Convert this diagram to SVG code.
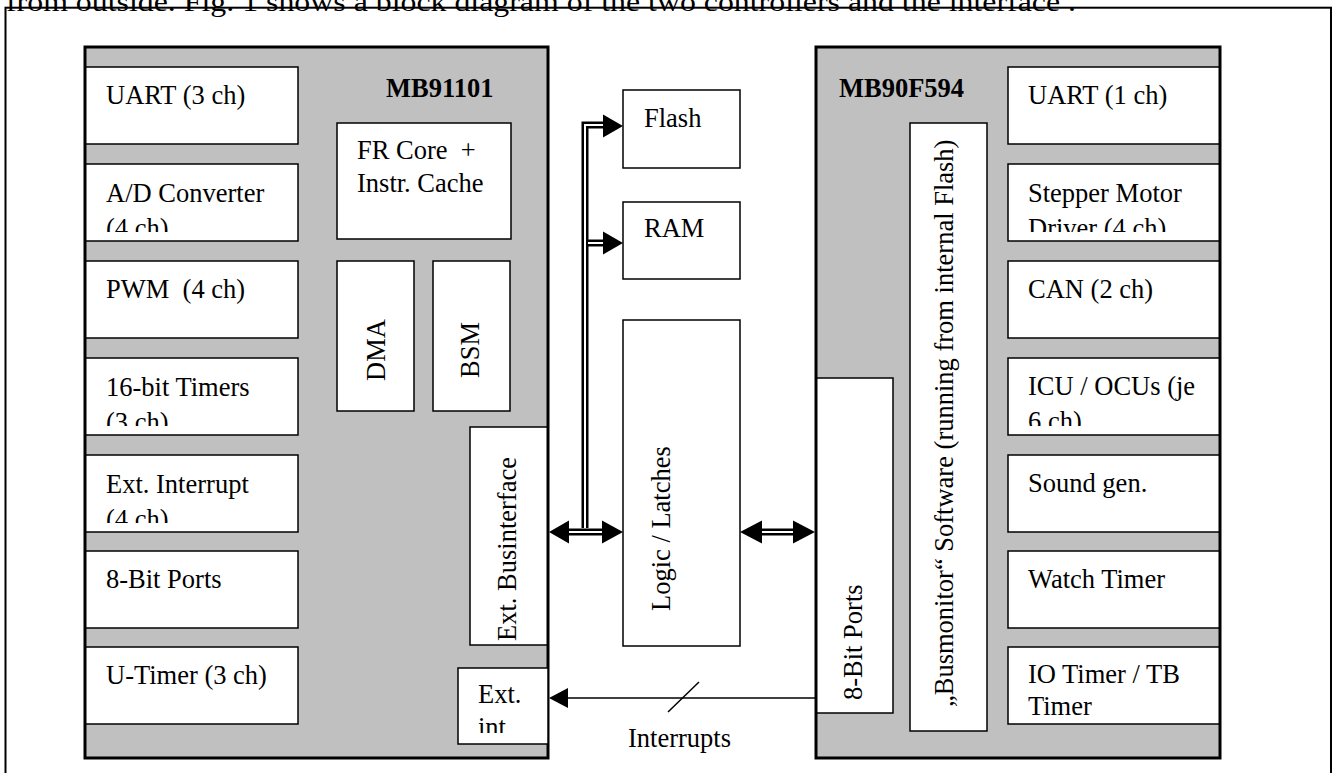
<svg xmlns="http://www.w3.org/2000/svg" width="1336" height="773" viewBox="0 0 1336 773">
<style>
text{font-family:"Liberation Serif","Times New Roman",serif;font-size:26.5px;fill:#000;white-space:pre}
.b{font-weight:bold}
.chip{fill:#c0c0c0;stroke:none}
.chipb{fill:none;stroke:#000;stroke-width:3}
.box{fill:#fff;stroke:#000;stroke-width:1.5}
.bus{fill:none;stroke:#000;stroke-width:7}
.busw{fill:none;stroke:#fff;stroke-width:2}
.ah{fill:#000;stroke:none}
.ln{fill:none;stroke:#000;stroke-width:1.5}
</style>
<defs>
<clipPath id="cl2"><rect x="85" y="164" width="213" height="68"/></clipPath>
<clipPath id="cl4"><rect x="85" y="358" width="213" height="68"/></clipPath>
<clipPath id="cl5"><rect x="85" y="455" width="213" height="68"/></clipPath>
<clipPath id="cr2"><rect x="1008" y="164" width="212" height="68"/></clipPath>
<clipPath id="cr4"><rect x="1008" y="358" width="212" height="68"/></clipPath>
<clipPath id="cr7"><rect x="1008" y="647" width="212" height="70"/></clipPath>
<clipPath id="cei"><rect x="458" y="668" width="90" height="65"/></clipPath>
</defs>
<rect width="1336" height="773" fill="#fff"/>
<g id="frame">
<rect x="5.5" y="7.7" width="1325.5" height="820" fill="none" stroke="#000" stroke-width="2"/>
<text x="6" y="11" font-size="32" textLength="1070" lengthAdjust="spacingAndGlyphs">from outside. Fig. 1 shows a block diagram of the two controllers and the interface .</text>
</g>
<g id="mb91101">
<rect class="chip" x="85" y="47" width="463" height="711"/>
<g id="l-uart"><rect class="box" x="85" y="67" width="213" height="77"/><text x="106" y="104">UART (3 ch)</text></g>
<g id="l-ad"><rect class="box" x="85" y="164" width="213" height="77"/><g clip-path="url(#cl2)"><text x="106" y="202">A/D Converter</text><text x="106" y="237">(4 ch)</text></g></g>
<g id="l-pwm"><rect class="box" x="85" y="261" width="213" height="77"/><text x="106" y="298" xml:space="preserve">PWM  (4 ch)</text></g>
<g id="l-timers"><rect class="box" x="85" y="358" width="213" height="77"/><g clip-path="url(#cl4)"><text x="106" y="396">16-bit Timers</text><text x="106" y="431">(3 ch)</text></g></g>
<g id="l-extint"><rect class="box" x="85" y="455" width="213" height="77"/><g clip-path="url(#cl5)"><text x="106" y="493">Ext. Interrupt</text><text x="106" y="528">(4 ch)</text></g></g>
<g id="l-ports"><rect class="box" x="85" y="551" width="213" height="77"/><text x="106" y="588">8-Bit Ports</text></g>
<g id="l-utimer"><rect class="box" x="85" y="647" width="213" height="77"/><text x="106" y="684">U-Timer (3 ch)</text></g>
<text class="b" x="386" y="97">MB91101</text>
<g id="frcore"><rect class="box" x="337" y="123" width="174" height="116"/><text x="357" y="159" xml:space="preserve">FR Core  +</text><text x="357" y="192">Instr. Cache</text></g>
<g id="dma"><rect class="box" x="337" y="261" width="77" height="150"/><text transform="translate(385,381) rotate(-90)">DMA</text></g>
<g id="bsm"><rect class="box" x="433" y="261" width="77" height="150"/><text transform="translate(479,378) rotate(-90)">BSM</text></g>
<g id="extbus"><rect class="box" x="470" y="427" width="78" height="218"/><text transform="translate(516,641) rotate(-90)">Ext. Businterface</text></g>
<rect class="chipb" x="85" y="47" width="463" height="711"/>
<g id="extint"><rect class="box" x="458" y="668" width="90" height="76"/><g clip-path="url(#cei)"><text x="478" y="703">Ext.</text><text x="478" y="736">int</text></g></g>
</g>
<g id="flash"><rect class="box" x="623" y="90" width="117" height="78"/><text x="644" y="127">Flash</text></g>
<g id="ram"><rect class="box" x="623" y="202" width="117" height="77"/><text x="644" y="237">RAM</text></g>
<g id="logic"><rect class="box" x="623" y="320" width="117" height="326"/><text transform="translate(670,611) rotate(-90)">Logic / Latches</text></g>
<g id="mb90f594">
<rect class="chip" x="816" y="47" width="404" height="711"/>
<text class="b" x="839" y="97">MB90F594</text>
<g id="r-uart"><rect class="box" x="1008" y="67" width="212" height="77"/><text x="1028" y="104">UART (1 ch)</text></g>
<g id="r-stepper"><rect class="box" x="1008" y="164" width="212" height="77"/><g clip-path="url(#cr2)"><text x="1028" y="202">Stepper Motor</text><text x="1028" y="237">Driver (4 ch)</text></g></g>
<g id="r-can"><rect class="box" x="1008" y="261" width="212" height="77"/><text x="1028" y="298">CAN (2 ch)</text></g>
<g id="r-icu"><rect class="box" x="1008" y="358" width="212" height="77"/><g clip-path="url(#cr4)"><text x="1028" y="395">ICU / OCUs (je</text><text x="1028" y="430">6 ch)</text></g></g>
<g id="r-sound"><rect class="box" x="1008" y="455" width="212" height="77"/><text x="1028" y="492">Sound gen.</text></g>
<g id="r-watch"><rect class="box" x="1008" y="551" width="212" height="77"/><text x="1028" y="588">Watch Timer</text></g>
<g id="r-io"><rect class="box" x="1008" y="647" width="212" height="77"/><g clip-path="url(#cr7)"><text x="1028" y="683">IO Timer / TB</text><text x="1028" y="715">Timer</text></g></g>
<g id="busmon"><rect class="box" x="910" y="123" width="77" height="608"/><text transform="translate(953,707) rotate(-90)">„Busmonitor“ Software (running from internal Flash)</text></g>
<g id="r-ports"><rect class="box" x="816" y="378" width="77" height="335"/><text transform="translate(862,700) rotate(-90)">8-Bit Ports</text></g>
<rect class="chipb" x="816" y="47" width="404" height="711"/>
</g>
<g id="connectors">
<path class="bus" d="M568,532 H603"/>
<path class="busw" d="M566,532 H605"/>
<path class="bus" d="M585,528 V125 H604"/>
<path class="busw" d="M585,528 V125 H605"/>
<path class="bus" d="M588,243 H604"/>
<path class="busw" d="M588,243 H605"/>
<polygon class="ah" points="549,532 569,520.5 569,543.5"/>
<polygon class="ah" points="623,532 602,520.5 602,543.5"/>
<polygon class="ah" points="623,126 603,114.5 603,137.5"/>
<polygon class="ah" points="623,243 603,231.5 603,254.5"/>
<path class="bus" d="M761,532 H794"/>
<path class="busw" d="M760,532 H795"/>
<polygon class="ah" points="740,532 762,520.5 762,543.5"/>
<polygon class="ah" points="815,532 793,520.5 793,543.5"/>
<path class="ln" d="M816,698 H566"/>
<polygon class="ah" points="549,698 568,688 568,708"/>
<path class="ln" d="M668,712 L699,682"/>
<text x="628" y="747">Interrupts</text>
</g>
</svg>
